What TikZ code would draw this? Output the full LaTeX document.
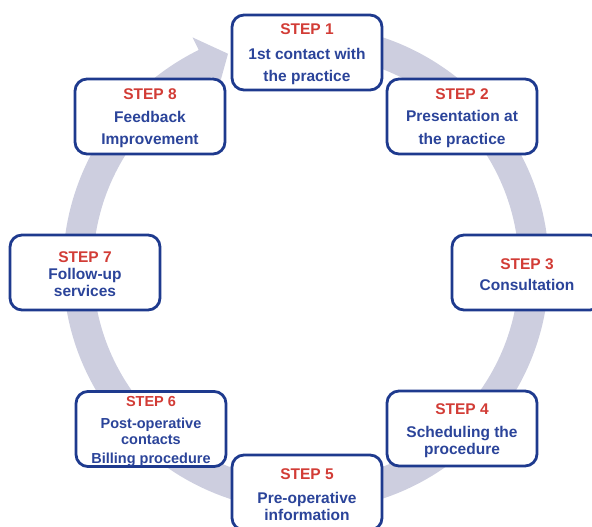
\documentclass[tikz,border=0pt]{standalone}
\usepackage{fontspec}
\setmainfont{Liberation Sans}
\definecolor{stepred}{HTML}{D23C36}
\definecolor{txtblue}{HTML}{2B449A}
\definecolor{boxblue}{HTML}{1E3A8E}
\definecolor{ringgray}{HTML}{CDCEDF}
\newcommand\stp[1]{\rule{0pt}{15pt}\textcolor{stepred}{STEP #1}}
\begin{document}
\begin{tikzpicture}[x=1pt,y=1pt,
  stepbox/.style={draw=boxblue, line width=2.8pt, rounded corners=12pt, fill=white,
    minimum width=150pt, minimum height=75pt, inner sep=0pt, align=center,
    text=txtblue, font=\fontsize{15.5}{17}\selectfont\bfseries},
  ring/.style={draw=ringgray, line width=30pt},
  ringhead/.style={fill=ringgray}]
\useasboundingbox (0,0) rectangle (592,527);
\clip (0,0) rectangle (592,527);
\coordinate (c) at (306,259);
\draw[ring] ([shift={(90:228)}]c) arc[start angle=90, end angle=-245.5, radius=228];
\fill[ringhead] ([shift={(116.2:257)}]c) -- ([shift={(110:228)}]c) -- ([shift={(116.2:199)}]c) -- cycle;
\node[stepbox] (s1) at (307,474.5) {\stp{1}\\[8pt]1st contact with\\[5pt]the practice};
\node[stepbox] (s2) at (462,410.5) {\stp{2}\\[5pt]Presentation at\\[6pt]the practice};
\node[stepbox] (s3) at (527,254.5) {\stp{3}\\[4pt]Consultation};
\node[stepbox] (s4) at (462,98.5) {\stp{4}\\[6pt]Scheduling the\\procedure};
\node[stepbox] (s5) at (307,34.5) {\stp{5}\\[7pt]Pre-operative\\information};
\node[stepbox, font=\fontsize{14.5}{16}\selectfont\bfseries] (s6) at (151,98) {\stp{6}\\[6pt]Post-operative\\contacts\\[3pt]Billing procedure};
\node[stepbox] (s7) at (85,254.5) {\stp{7}\\Follow-up\\services};
\node[stepbox] (s8) at (150,410.5) {\stp{8}\\[6pt]Feedback\\[5pt]Improvement};
\end{tikzpicture}
\end{document}
